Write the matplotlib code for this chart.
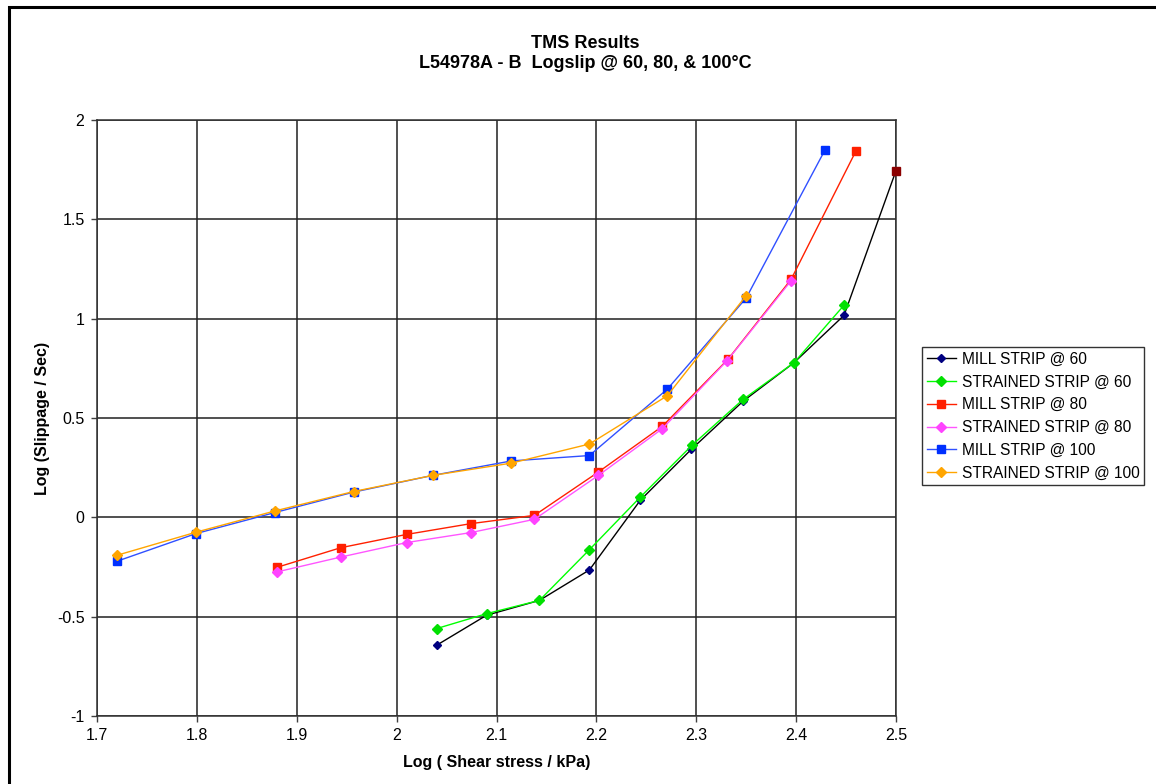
import matplotlib
matplotlib.use("Agg")
import matplotlib.pyplot as plt
from matplotlib.patches import Rectangle

plt.rcParams['font.family'] = ['Liberation Sans', 'DejaVu Sans']

# Data (log shear stress, log slippage)
mill60_x = [2.040, 2.090, 2.143, 2.193, 2.244, 2.295, 2.347, 2.398, 2.448, 2.500]
mill60_y = [-0.644, -0.493, -0.418, -0.265, 0.086, 0.342, 0.585, 0.779, 1.017, 1.745]

str60_x = [2.040, 2.090, 2.143, 2.193, 2.244, 2.296, 2.347, 2.398, 2.448]
str60_y = [-0.560, -0.485, -0.418, -0.163, 0.102, 0.364, 0.594, 0.779, 1.068]

mill80_x = [1.880, 1.944, 2.010, 2.074, 2.138, 2.202, 2.266, 2.332, 2.395, 2.460]
mill80_y = [-0.252, -0.153, -0.086, -0.032, 0.010, 0.228, 0.458, 0.797, 1.198, 1.845]

str80_x = [1.880, 1.944, 2.010, 2.074, 2.138, 2.202, 2.266, 2.331, 2.395]
str80_y = [-0.275, -0.200, -0.127, -0.077, -0.010, 0.211, 0.446, 0.789, 1.191]

mill100_x = [1.720, 1.799, 1.878, 1.957, 2.036, 2.115, 2.193, 2.271, 2.350, 2.429]
mill100_y = [-0.221, -0.082, 0.024, 0.127, 0.211, 0.284, 0.311, 0.645, 1.104, 1.850]

str100_x = [1.720, 1.799, 1.878, 1.957, 2.036, 2.115, 2.193, 2.271, 2.350]
str100_y = [-0.191, -0.075, 0.032, 0.130, 0.211, 0.273, 0.369, 0.612, 1.116]

labels = ["MILL STRIP @ 60", "STRAINED STRIP @ 60", "MILL STRIP @ 80",
          "STRAINED STRIP @ 80", "MILL STRIP @ 100", "STRAINED STRIP @ 100"]

x_ticks = [1.7, 1.8, 1.9, 2.0, 2.1, 2.2, 2.3, 2.4, 2.5]
x_ticklabels = ["1.7", "1.8", "1.9", "2", "2.1", "2.2", "2.3", "2.4", "2.5"]
y_ticks = [-1, -0.5, 0, 0.5, 1, 1.5, 2]
y_ticklabels = ["-1", "-0.5", "0", "0.5", "1", "1.5", "2"]

fig = plt.figure(figsize=(11.56, 7.84), dpi=100)
fig.patches.append(Rectangle((9/1156, -0.05), 1.2, 1.05 - 7/784, transform=fig.transFigure,
                             fill=False, edgecolor='black', linewidth=2.2, zorder=0))

ax = fig.add_axes([97/1156, 68/784, 799/1156, 596/784])
ax.set_xlim(1.7, 2.5)
ax.set_ylim(-1, 2)
ax.set_xticks(x_ticks)
ax.set_xticklabels(x_ticklabels, fontsize=11.5)
ax.set_yticks(y_ticks)
ax.set_yticklabels(y_ticklabels, fontsize=11.5)
ax.tick_params(direction='out', length=4, width=1, color='#404040', pad=5)
ax.grid(True, color='#202020', linewidth=1.1)
ax.set_axisbelow(True)
for s in ax.spines.values():
    s.set_color('#303030')
    s.set_linewidth(1.1)

lw = 1.0
ax.plot(mill60_x, mill60_y, color='black', lw=lw, marker='D', ms=4.2,
        mfc='#000080', mec='#000080', label=labels[0], clip_on=False)
ax.plot(mill60_x[-1:], mill60_y[-1:], color='#8B0000', marker='s', ms=6, ls='none', clip_on=False, zorder=5)
ax.plot(str60_x, str60_y, color='#00FF00', lw=lw, marker='D', ms=4.6,
        mfc='#00E000', mec='#00E000', label=labels[1])
ax.plot(mill80_x, mill80_y, color='#FF2000', lw=lw, marker='s', ms=6,
        mfc='#FF2000', mec='#FF2000', label=labels[2])
ax.plot(str80_x, str80_y, color='#FF55FF', lw=lw, marker='D', ms=4.6,
        mfc='#FF44FF', mec='#FF44FF', label=labels[3])
ax.plot(mill100_x, mill100_y, color='#3050FF', lw=lw, marker='s', ms=6,
        mfc='#0030FF', mec='#0030FF', label=labels[4])
ax.plot(str100_x, str100_y, color='#FFA500', lw=lw, marker='D', ms=4.6,
        mfc='#FFA500', mec='#FFA500', label=labels[5])

ax.set_xlabel("Log ( Shear stress / kPa)", fontsize=11.5, fontweight='bold', labelpad=8)
ax.set_ylabel("Log (Slippage / Sec)", fontsize=11.5, fontweight='bold', labelpad=5)

fig.text(585/1156, 1 - 43/784, "TMS Results", ha='center', va='center',
         fontsize=13, fontweight='bold')
fig.text(585/1156, 1 - 63/784, "L54978A - B  Logslip @ 60, 80, & 100°C", ha='center',
         va='center', fontsize=13, fontweight='bold')

leg = fig.legend(loc='upper left', bbox_to_anchor=(922/1156, 1 - 347/784),
                 fontsize=11.2, frameon=True, fancybox=False, edgecolor='black',
                 handlelength=1.9, handletextpad=0.35, labelspacing=0.5,
                 borderpad=0.3, borderaxespad=0)
leg.get_frame().set_linewidth(1.0)

fig.savefig("out.png", dpi=100)
